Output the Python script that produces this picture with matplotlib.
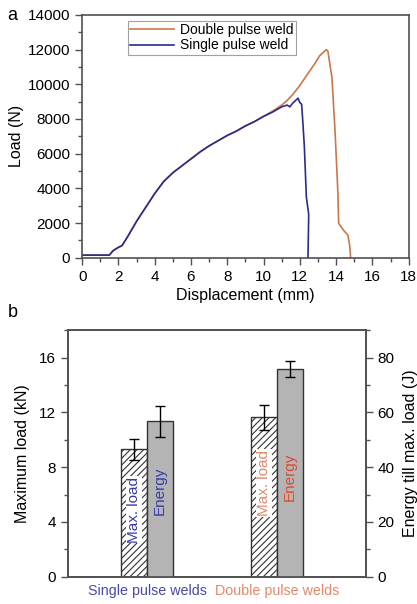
import numpy as np
import matplotlib
matplotlib.use("Agg")
from matplotlib import pyplot as plt
from matplotlib.ticker import MultipleLocator

plt.rcParams['font.family'] = ['Liberation Sans', 'DejaVu Sans']
plt.rcParams['hatch.linewidth'] = 0.8

# Load-displacement curves
single_x = [0, 0.5, 1.0, 1.5, 1.7, 2.0, 2.2, 2.5, 3.0, 3.5, 4.0, 4.5, 5.0, 5.5, 6.0, 6.5,
            7.0, 7.5, 8.0, 8.5, 9.0, 9.5, 10.0, 10.5, 11.0, 11.3, 11.45, 11.6, 11.9,
            12.0, 12.1, 12.18, 12.25, 12.36, 12.49, 12.45]
single_y = [150, 150, 150, 150, 400, 600, 700, 1200, 2100, 2900, 3700, 4400, 4900, 5300,
            5700, 6100, 6450, 6750, 7050, 7300, 7600, 7850, 8150, 8400, 8700, 8800, 8700,
            8900, 9200, 8950, 8850, 7600, 6400, 3500, 2500, 0]

double_x = [0, 0.5, 1.0, 1.5, 1.7, 2.0, 2.2, 2.5, 3.0, 3.5, 4.0, 4.5, 5.0, 5.5, 6.0, 6.5,
            7.0, 7.5, 8.0, 8.5, 9.0, 9.5, 10.0, 10.5, 11.0, 11.3, 11.6, 12.0, 12.4, 12.8,
            13.1, 13.46, 13.55, 13.68, 13.77, 13.95, 14.1, 14.14, 14.4, 14.65, 14.75, 14.8]
double_y = [150, 150, 150, 150, 400, 600, 700, 1200, 2100, 2900, 3700, 4400, 4900, 5300,
            5700, 6100, 6450, 6750, 7050, 7300, 7600, 7850, 8150, 8450, 8800, 9070, 9400,
            9930, 10550, 11150, 11650, 12000, 11900, 11000, 10400, 7150, 3700, 1980, 1600,
            1300, 700, 0]

# Bar chart values
groups = ['Single pulse welds', 'Double pulse welds']
max_load = [9.3, 11.65]          # kN
max_load_err = [0.75, 0.9]
energy = [56.8, 75.7]            # J
energy_err = [5.7, 2.9]

blue = '#2b2b8c'
orange = '#c8784a'
spine_c = '#505050'

fig = plt.figure(figsize=(4.17, 6.04), dpi=100)

# ---------- panel a ----------
ax1 = fig.add_axes([0.197, 0.5733, 0.783, 0.402])
ax1.plot(double_x, double_y, color=orange, lw=1.2, label='Double pulse weld')
ax1.plot(single_x, single_y, color=blue, lw=1.2, label='Single pulse weld')
ax1.set_xlim(0, 18)
ax1.set_ylim(0, 14000)
ax1.xaxis.set_major_locator(MultipleLocator(2))
ax1.xaxis.set_minor_locator(MultipleLocator(1))
ax1.yaxis.set_major_locator(MultipleLocator(2000))
ax1.yaxis.set_minor_locator(MultipleLocator(1000))
ax1.tick_params(which='major', length=5, width=1, color=spine_c, labelsize=11)
ax1.tick_params(which='minor', length=3, width=1, color=spine_c)
for s in ax1.spines.values():
    s.set_color(spine_c)
    s.set_linewidth(1.2)
ax1.set_xlabel('Displacement (mm)', fontsize=11.5, labelpad=3)
ax1.set_ylabel('Load (N)', fontsize=11.5, labelpad=3)
leg = ax1.legend(loc='upper left', bbox_to_anchor=(0.14, 0.975), borderaxespad=0,
                 fancybox=False, edgecolor='#888888', fontsize=10, handlelength=3.2,
                 borderpad=0.15, labelspacing=0.1, handletextpad=0.4)
leg.get_frame().set_linewidth(0.8)
fig.text(0.018, 0.975, 'a', fontsize=13, va='center')

# ---------- panel b ----------
ax2 = fig.add_axes([0.162, 0.0452, 0.715, 0.408])
ax3 = ax2.twinx()
pos = np.arange(len(groups))
w = 0.2
ax2.bar(pos - w / 2, max_load, w, yerr=max_load_err, color='white', edgecolor='#333333',
        hatch='/////', lw=1.0, capsize=3.5, error_kw=dict(lw=1.0, capthick=1.0), zorder=2)
ax3.bar(pos + w / 2, energy, w, yerr=energy_err, color='#b4b4b4', edgecolor='#333333',
        lw=1.0, capsize=3.5, error_kw=dict(lw=1.0, capthick=1.0), zorder=2)
ax2.set_xlim(-0.61, 1.68)
ax2.set_ylim(0, 18)
ax3.set_ylim(0, 90)
ax2.yaxis.set_major_locator(MultipleLocator(4))
ax2.yaxis.set_minor_locator(MultipleLocator(2))
ax3.yaxis.set_major_locator(MultipleLocator(20))
ax3.yaxis.set_minor_locator(MultipleLocator(10))
for a in (ax2, ax3):
    a.tick_params(which='major', length=5, width=1, color=spine_c, labelsize=11)
    a.tick_params(which='minor', length=3, width=1, color=spine_c)
    for s in a.spines.values():
        s.set_color(spine_c)
        s.set_linewidth(1.2)
ax2.set_xticks(pos)
ax2.set_xticklabels(groups, fontsize=10.3)
ax2.tick_params(axis='x', length=0, pad=5)
ax2.get_xticklabels()[0].set_color('#4848a8')
ax2.get_xticklabels()[1].set_color('#e08a6a')
ax2.set_ylabel('Maximum load (kN)', fontsize=11.5, labelpad=6)
ax3.set_ylabel('Energy till max. load (J)', fontsize=11.5, labelpad=6)

# labels inside the bars, placed on the top (energy) axes so they stay visible
txt_kw = dict(rotation=90, ha='center', va='center', fontsize=11, zorder=5)
ax3.text(pos[0] - w / 2, 24.5, 'Max. load', color='#3a3aa8',
         bbox=dict(facecolor='white', edgecolor='none', pad=0.5), **txt_kw)
ax3.text(pos[0] + w / 2, 31.5, 'Energy', color='#3a3aa8', **txt_kw)
ax3.text(pos[1] - w / 2, 34.2, 'Max. load', color='#e08a6a',
         bbox=dict(facecolor='white', edgecolor='none', pad=0.5), **txt_kw)
ax3.text(pos[1] + w / 2, 36.5, 'Energy', color='#e04a30', **txt_kw)
fig.text(0.018, 0.483, 'b', fontsize=13, va='center')

fig.savefig('out.png', dpi=100)
